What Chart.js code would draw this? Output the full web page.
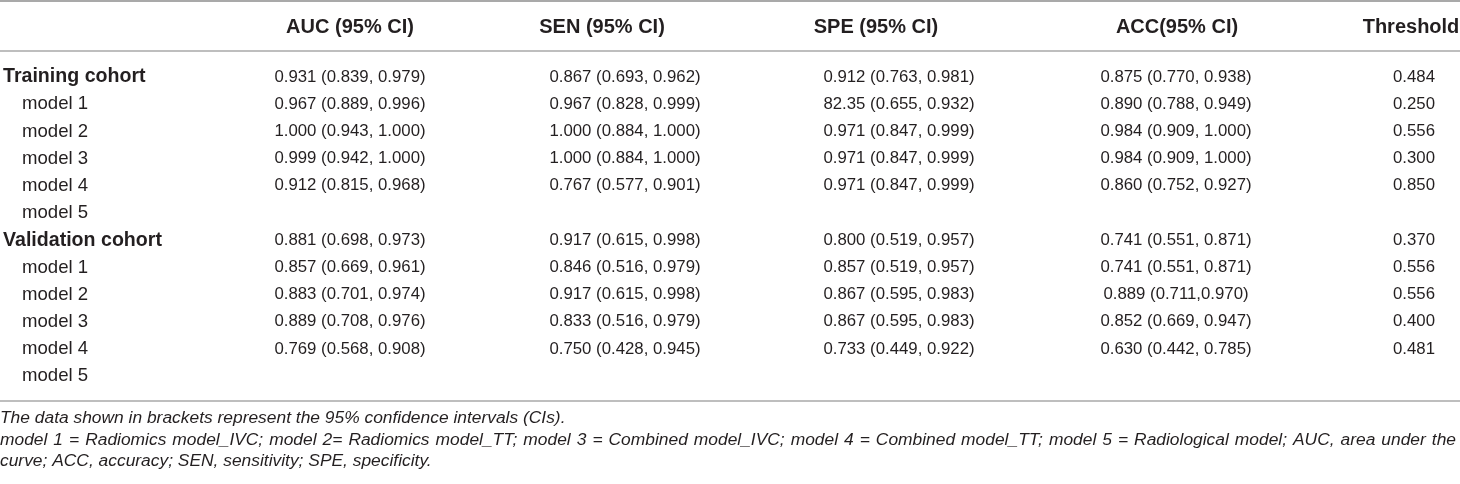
<!DOCTYPE html>
<html>
<head>
<meta charset="utf-8">
<script src="https://cdn.jsdelivr.net/npm/chart.js@4.4.1/dist/chart.umd.min.js"></script>
<style>
  html, body { margin: 0; padding: 0; background: #fff; }
  #wrap { width: 1460px; height: 484px; }
</style>
</head>
<body>
<div id="wrap"><canvas id="tbl" width="1460" height="484"></canvas></div>
<script>
// table content
const headers = ['', 'AUC (95% CI)', 'SEN (95% CI)', 'SPE (95% CI)', 'ACC(95% CI)', 'Threshold'];
const rowLabels = ['Training cohort', 'model 1', 'model 2', 'model 3', 'model 4', 'model 5',
    'Validation cohort', 'model 1', 'model 2', 'model 3', 'model 4', 'model 5'];
const auc = ['0.931 (0.839, 0.979)', '0.967 (0.889, 0.996)', '1.000 (0.943, 1.000)', '0.999 (0.942, 1.000)', '0.912 (0.815, 0.968)', '',
    '0.881 (0.698, 0.973)', '0.857 (0.669, 0.961)', '0.883 (0.701, 0.974)', '0.889 (0.708, 0.976)', '0.769 (0.568, 0.908)', ''];
const sen = ['0.867 (0.693, 0.962)', '0.967 (0.828, 0.999)', '1.000 (0.884, 1.000)', '1.000 (0.884, 1.000)', '0.767 (0.577, 0.901)', '',
    '0.917 (0.615, 0.998)', '0.846 (0.516, 0.979)', '0.917 (0.615, 0.998)', '0.833 (0.516, 0.979)', '0.750 (0.428, 0.945)', ''];
const spe = ['0.912 (0.763, 0.981)', '82.35 (0.655, 0.932)', '0.971 (0.847, 0.999)', '0.971 (0.847, 0.999)', '0.971 (0.847, 0.999)', '',
    '0.800 (0.519, 0.957)', '0.857 (0.519, 0.957)', '0.867 (0.595, 0.983)', '0.867 (0.595, 0.983)', '0.733 (0.449, 0.922)', ''];
const acc = ['0.875 (0.770, 0.938)', '0.890 (0.788, 0.949)', '0.984 (0.909, 1.000)', '0.984 (0.909, 1.000)', '0.860 (0.752, 0.927)', '',
    '0.741 (0.551, 0.871)', '0.741 (0.551, 0.871)', '0.889 (0.711,0.970)', '0.852 (0.669, 0.947)', '0.630 (0.442, 0.785)', ''];
const threshold = ['0.484', '0.250', '0.556', '0.300', '0.850', '',
    '0.370', '0.556', '0.556', '0.400', '0.481', ''];
const footnotes = [
    'The data shown in brackets represent the 95% confidence intervals (CIs).',
    'model 1 = Radiomics model_IVC; model 2= Radiomics model_TT; model 3 = Combined model_IVC; model 4 = Combined model_TT; model 5 = Radiological model; AUC, area under the',
    'curve; ACC, accuracy; SEN, sensitivity; SPE, specificity.'
];
const justified = [false, true, false];

// layout (pixels on the hidden linear scales)
const headerY = 27;
const firstRowY = 77;
const rowStep = 27.2;
const footY = [418, 440, 461];
const ruleY = [1, 51, 401];
const headerX = [0, 350, 602, 876, 1177, 1411];
const dataX = [0, 350, 625, 899, 1176, 1414];
const labelX = 3, indentX = 22;
const footWidth = 1456;
const textColor = '#231f20';
const fontFamily = '"Liberation Sans", Arial, Helvetica, sans-serif';

// build one point per cell
const columns = [auc, sen, spe, acc, threshold];
const cells = [];
headers.forEach((h, c) => {
    if (h) cells.push({ x: headerX[c], y: headerY, text: h, kind: 'head' });
});
rowLabels.forEach((lab, r) => {
    const y = firstRowY + r * rowStep;
    const isCohort = lab.indexOf('cohort') >= 0;
    cells.push({ x: isCohort ? labelX : indentX, y: y, text: lab, kind: isCohort ? 'cohort' : 'model' });
    columns.forEach((col, c) => {
        if (col[r]) cells.push({ x: dataX[c + 1], y: y, text: col[r], kind: 'num' });
    });
});
footnotes.forEach((f, i) => cells.push({ x: 0, y: footY[i], text: f, kind: 'foot', justify: justified[i] }));

const styles = {
    head:   { font: 'bold 20px ' + fontFamily, align: 'center' },
    cohort: { font: 'bold 19.6px ' + fontFamily, align: 'left' },
    model:  { font: '18.6px ' + fontFamily, align: 'left' },
    num:    { font: '16.8px ' + fontFamily, align: 'center' },
    foot:   { font: 'italic 17.4px ' + fontFamily, align: 'left' }
};

// draw a line of text spread over the given width (justified paragraph line)
function fillJustified(ctx, text, x0, y0, width) {
    const words = text.split(' ');
    const wordsW = words.reduce((s, w) => s + ctx.measureText(w).width, 0);
    const gap = (width - wordsW) / (words.length - 1);
    let cx = x0;
    words.forEach(w => {
        ctx.fillText(w, cx, y0);
        cx += ctx.measureText(w).width + gap;
    });
}

const tablePlugin = {
    id: 'tableText',
    afterDatasetsDraw(chart) {
        const { ctx, scales: { x, y } } = chart;
        ctx.save();
        // horizontal rules
        ruleY.forEach((ry, i) => {
            ctx.beginPath();
            ctx.strokeStyle = i === 0 ? '#8c8c8c' : '#a8a8a8';
            ctx.lineWidth = 1.5;
            const py = y.getPixelForValue(ry);
            ctx.moveTo(x.getPixelForValue(0), py);
            ctx.lineTo(x.getPixelForValue(1460), py);
            ctx.stroke();
        });
        // cell texts at their point positions
        const meta = chart.getDatasetMeta(0);
        const raw = chart.data.datasets[0].data;
        ctx.fillStyle = textColor;
        ctx.textBaseline = 'middle';
        meta.data.forEach((el, i) => {
            const cell = raw[i];
            const st = styles[cell.kind];
            ctx.font = st.font;
            ctx.textAlign = st.align;
            if (cell.justify) {
                fillJustified(ctx, cell.text, el.x, el.y, x.getPixelForValue(footWidth) - el.x);
            } else {
                ctx.fillText(cell.text, el.x, el.y);
            }
        });
        ctx.restore();
    }
};

new Chart(document.getElementById('tbl'), {
    type: 'scatter',
    data: {
        datasets: [{
            data: cells,
            pointRadius: 0,
            pointHoverRadius: 0
        }]
    },
    options: {
        responsive: false,
        animation: false,
        devicePixelRatio: 1,
        layout: { padding: 0 },
        scales: {
            x: { type: 'linear', display: false, min: 0, max: 1460 },
            y: { type: 'linear', display: false, min: 0, max: 484, reverse: true }
        },
        plugins: {
            legend: { display: false },
            tooltip: { enabled: false }
        }
    },
    plugins: [tablePlugin]
});
</script>
</body>
</html>
